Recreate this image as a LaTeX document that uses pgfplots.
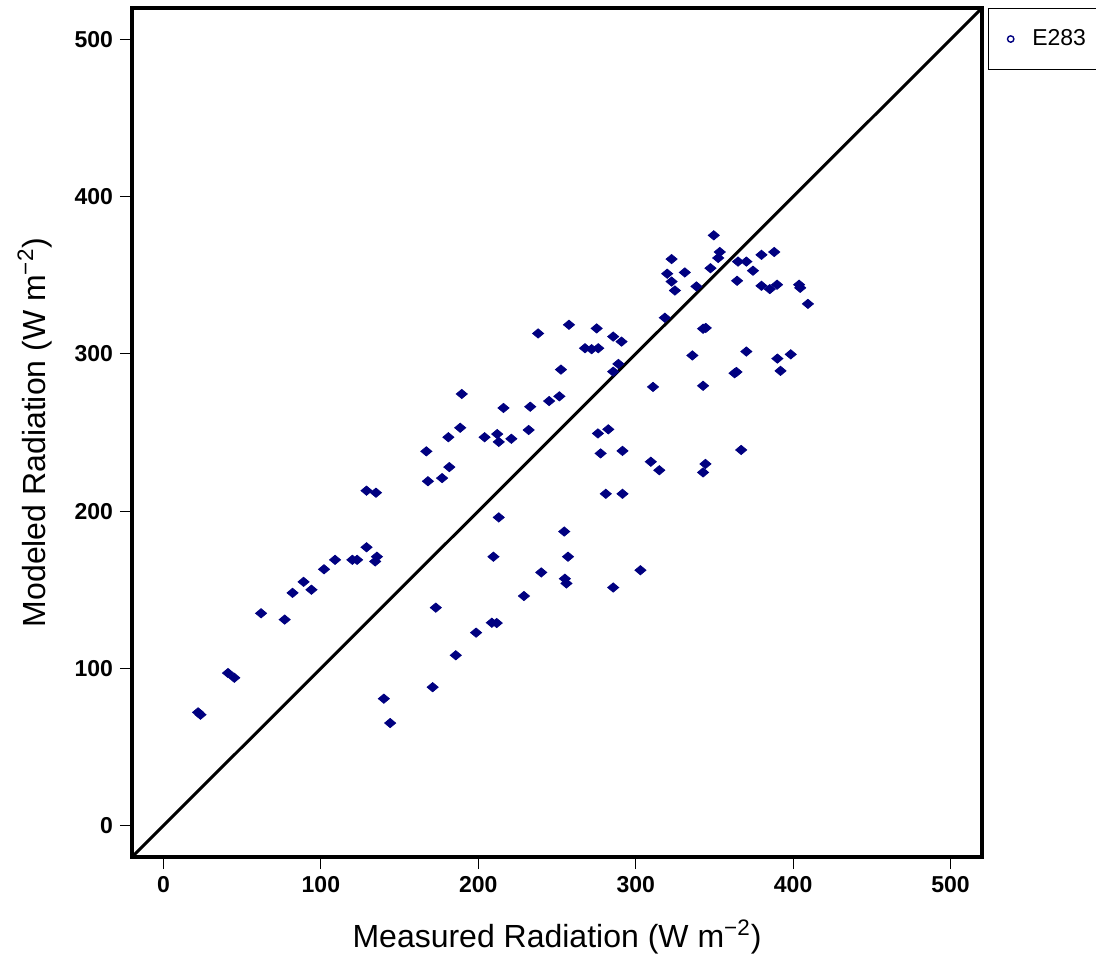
\documentclass[border=0pt]{standalone}
\usepackage{fontspec}
\setmainfont{Liberation Sans}
\usepackage{pgfplots}
\pgfplotsset{compat=1.18}
\definecolor{navyb}{RGB}{0,0,128}
\begin{document}
\begin{tikzpicture}
\begin{axis}[
  name=ax,
  scale only axis,
  width=425pt, height=424.5pt,
  xmin=-20, xmax=520, ymin=-20, ymax=520,
  xtick={0,100,200,300,400,500},
  ytick={0,100,200,300,400,500},
  xtick pos=lower, ytick pos=left,
  tick align=outside,
  major tick length=6pt,
  tick style={black, line width=0.6pt},
  axis line style={line width=2pt},
  /pgf/number format/assume math mode=true,
  tick label style={font=\bfseries\fontsize{11.5}{13}\selectfont},
  xlabel={Measured Radiation (W m\textsuperscript{−2})},
  ylabel={Modeled Radiation (W m\textsuperscript{−2})},
  label style={font=\fontsize{16}{19}\selectfont},
  xlabel style={at={(axis description cs:0.5,-0.0942)}, anchor=center},
  ylabel style={at={(axis description cs:-0.1141,0.5)}, anchor=center},
  legend style={at={(1,1)}, anchor=north west, xshift=3pt, draw=black, line width=0.5pt,
    font=\fontsize{11.5}{13}\selectfont, inner ysep=8.5pt, inner xsep=8pt},
  legend cell align=left,
]
\addplot[black, line width=1.5pt, forget plot] coordinates {(-20,-20) (520,520)};
\addplot[only marks, mark=diamond*, mark size=2.3pt, color=navyb,
  mark options={xscale=1.6, fill=navyb, draw=navyb},
  legend image code/.code={\path (0cm,0cm) (0.4cm,0cm);
     \draw[navyb, line width=0.7pt, fill=white] (0.1cm,0cm) circle (1.6pt);}
] table {
x y
22 72
23.5 70.5
41 97
45 94
62 135
77 131
82 148
89 155
94 150
102 163
109 169
120 169
123 169
129 177
135.6 171
134.5 168
129 213
135 211.7
167 238
168 219
177 221
181.6 228
181 247
188.5 253
189.5 274.5
204 247
212 249
213 244
221 246
216 265.6
232 251.6
233 266.4
238 313
245 270
251.5 273
252.5 290
257.6 318.5
267.8 303.6
272 303
276.2 303.6
275.2 316.2
285.7 311
291 307.8
289 293.6
285.7 288.7
318.5 323
320 351
322.8 346
324.9 340.3
322.8 360.3
331.2 351.8
338.6 342.9
347.5 354.5
349.6 375.4
353.4 364.8
352.4 361
342.8 316
344.5 316.5
365 358.7
370.3 358.7
379.9 363
388 364.8
374.5 352.9
364.4 346.5
379.9 343.3
385.2 341.2
389.8 344
403.8 344
404.5 342
409.4 331.8
140 80.7
144 65.2
171 88
173 138.6
185.7 108.3
198.6 122.7
208.6 129
211.7 128.8
209.6 171
213 196
229 146
240 161
254.6 187
257 171
255 157
256 154
276 249.4
282.6 252
277.7 236.7
291.6 238.3
281 211
291.6 211
285.7 151.4
303 162.4
309.6 231.4
315 226
311 279
336 299
342.8 279.7
344.3 230
342.8 224.6
362.8 287.7
364 288.5
367 238.9
370.3 301.5
390 297
392 289.2
398.5 299.7
};
\addlegendentry{E283}
\end{axis}
\pgfresetboundingbox
\path ([shift={(-66pt,-52.5pt)}]ax.south west) rectangle ([shift={(57pt,4pt)}]ax.north east);
\end{tikzpicture}
\end{document}
